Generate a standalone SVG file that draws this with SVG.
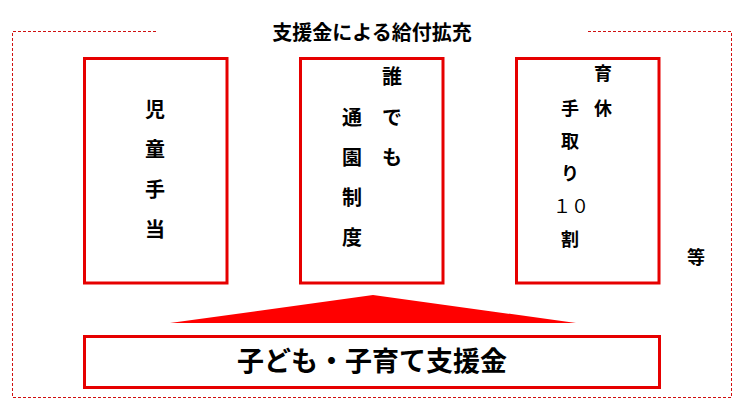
<svg xmlns="http://www.w3.org/2000/svg" width="739" height="409" viewBox="0 0 739 409">
<style>
.box{fill:#fff;stroke:#e60000;stroke-width:3}
.t{font-family:"Noto Sans CJK JP","Noto Sans",sans-serif;font-weight:bold;fill:#000;text-anchor:middle}
.f20{font-size:20px}
.f18{font-size:18px}
.border{fill:none;stroke:#d01010;stroke-width:1;stroke-dasharray:3 2}
</style>
<rect width="739" height="409" fill="#fff"/>
<g id="frame">
<path class="border" d="M156,31.5 H12.5 V397.5 H731.5 V31.5 H587"/>
<text class="t f20" x="372" y="39.5">支援金による給付拡充</text>
</g>
<g id="connectors">
<polygon points="373,295 576,323 170,323" fill="#ff0000"/>
</g>
<g id="node-jidou">
<rect class="box" x="84.5" y="58.5" width="142.5" height="224.5"/>
<text class="t f20" x="155" y="117">児</text>
<text class="t f20" x="155" y="157">童</text>
<text class="t f20" x="155" y="197">手</text>
<text class="t f20" x="155" y="237">当</text>
</g>
<g id="node-tsuen">
<rect class="box" x="300.5" y="58.5" width="142.5" height="224.5"/>
<text class="t f20" x="392" y="84">誰</text>
<text class="t f20" x="392" y="125">で</text>
<text class="t f20" x="392" y="165">も</text>
<text class="t f20" x="352" y="125">通</text>
<text class="t f20" x="352" y="165">園</text>
<text class="t f20" x="352" y="205">制</text>
<text class="t f20" x="352" y="245">度</text>
</g>
<g id="node-ikukyu">
<rect class="box" x="516.5" y="58.5" width="142.5" height="224.5"/>
<text class="t f18" x="603" y="80">育</text>
<text class="t f18" x="603" y="115">休</text>
<text class="t f18" x="570" y="115">手</text>
<text class="t f18" x="570" y="148">取</text>
<text class="t f18" x="570" y="180">り</text>
<text class="t f18" x="571" y="213" style="font-weight:normal">１０</text>
<text class="t f18" x="570" y="246">割</text>
</g>
<g id="node-etc">
<text class="t f18" x="696" y="264">等</text>
</g>
<g id="node-shienkin">
<rect class="box" x="84.5" y="336.5" width="575" height="51"/>
<text class="t" x="372" y="371" style="font-size:27px">子ども・子育て支援金</text>
</g>
</svg>
